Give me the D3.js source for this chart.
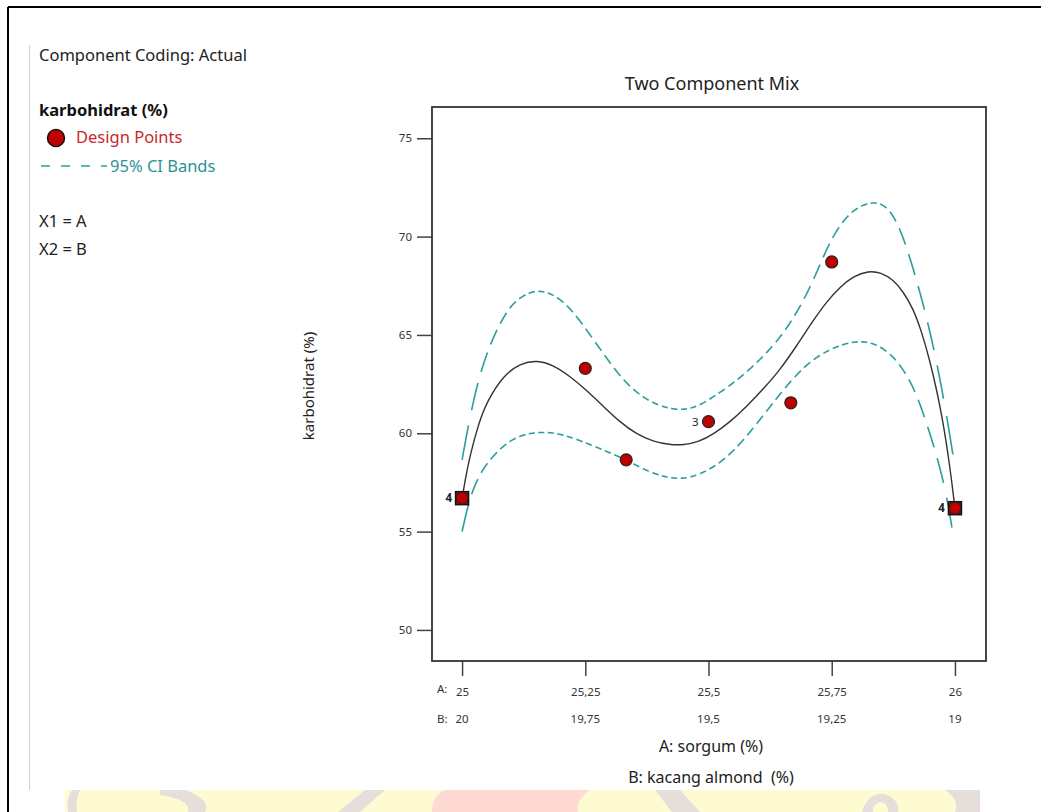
<!DOCTYPE html>
<html><head><meta charset="utf-8">
<script src="https://cdn.jsdelivr.net/npm/d3@7"></script>
<style>body{margin:0;background:#fff}svg{display:block}text{font-family:"Noto Sans","Open Sans",sans-serif}</style>
</head><body><svg id="c" width="1041" height="812"></svg>
<script>
// ---- data ----
const xTicksA = [25, 25.25, 25.5, 25.75, 26];
const xTicksB = ["20", "19,75", "19,5", "19,25", "19"];
const yTicks = [50, 55, 60, 65, 70, 75];

const pointA = [25, 25.25, 25.333, 25.5, 25.667, 25.75, 26];
const pointY = [56.70, 63.30, 58.65, 60.59, 61.55, 68.71, 56.19];
const pointCount = [4, 1, 1, 3, 1, 1, 4];

const fitA = [25.0, 25.008, 25.016, 25.033, 25.05, 25.084, 25.118, 25.152, 25.185, 25.219, 25.253, 25.287, 25.32, 25.354, 25.388, 25.42, 25.45, 25.48, 25.51, 25.545, 25.577, 25.611, 25.645, 25.679, 25.713, 25.74, 25.767, 25.795, 25.824, 25.85, 25.875, 25.895, 25.915, 25.932, 25.949, 25.963, 25.976, 25.985, 25.993, 26.0];
const fitY = [56.70, 57.85, 58.85, 60.45, 61.60, 62.95, 63.55, 63.72, 63.47, 62.90, 62.18, 61.36, 60.58, 59.95, 59.58, 59.42, 59.40, 59.56, 59.95, 60.60, 61.35, 62.25, 63.22, 64.45, 65.76, 66.70, 67.45, 68.00, 68.25, 68.18, 67.80, 67.20, 66.35, 65.20, 63.70, 62.20, 60.55, 59.10, 57.65, 56.19];

const upA = [25.0, 25.016, 25.033, 25.05, 25.067, 25.084, 25.101, 25.126, 25.152, 25.177, 25.202, 25.228, 25.253, 25.287, 25.32, 25.354, 25.388, 25.42, 25.45, 25.48, 25.51, 25.545, 25.577, 25.611, 25.645, 25.679, 25.713, 25.747, 25.78, 25.807, 25.832, 25.855, 25.875, 25.895, 25.915, 25.932, 25.949, 25.963, 25.976, 25.986, 25.996];
const upY = [58.65, 60.85, 62.71, 64.05, 65.08, 65.90, 66.55, 67.05, 67.27, 67.15, 66.77, 66.10, 65.24, 64.04, 62.90, 62.05, 61.52, 61.25, 61.18, 61.38, 61.85, 62.45, 63.10, 63.90, 64.85, 66.10, 67.75, 69.85, 71.05, 71.55, 71.76, 71.65, 71.10, 70.00, 68.40, 66.90, 65.20, 63.60, 61.90, 60.45, 58.90];

const loA = [25.0, 25.016, 25.033, 25.05, 25.084, 25.118, 25.158, 25.199, 25.253, 25.294, 25.333, 25.375, 25.41, 25.44, 25.47, 25.51, 25.545, 25.577, 25.611, 25.645, 25.679, 25.713, 25.76, 25.807, 25.845, 25.875, 25.895, 25.915, 25.932, 25.949, 25.963, 25.976, 25.986, 25.994];
const loY = [55.00, 56.78, 57.75, 58.48, 59.41, 59.91, 60.08, 60.00, 59.50, 59.07, 58.65, 58.08, 57.78, 57.68, 57.78, 58.25, 58.95, 59.83, 60.90, 62.00, 63.00, 63.80, 64.45, 64.74, 64.50, 63.90, 63.25, 62.37, 61.30, 60.00, 58.85, 57.60, 56.40, 55.18];

// ---- layout ----
const svg = d3.select("#c");
const L = 432, R = 986, T = 107, B = 661;
const x = d3.scaleLinear().domain([24.939, 26.063]).range([L, R]);
const y = d3.scaleLinear().domain([48.42, 76.59]).range([B, T]);
const teal = "#2a9d9d", red = "#c00000";

// outer frame
svg.append("line").attr("x1", 8).attr("y1", 7).attr("x2", 1041).attr("y2", 7).attr("stroke", "#000").attr("stroke-width", 2);
svg.append("line").attr("x1", 8).attr("y1", 7).attr("x2", 8).attr("y2", 812).attr("stroke", "#000").attr("stroke-width", 2);
svg.append("line").attr("x1", 29.5).attr("y1", 45).attr("x2", 29.5).attr("y2", 790).attr("stroke", "#d0d0d0").attr("stroke-width", 1);

// watermark band at bottom
const wm = svg.append("g");
wm.append("rect").attr("x", 65).attr("y", 790).attr("width", 915).attr("height", 22).attr("fill", "#fffbd0");
wm.append("path").attr("d", "M68,812 Q66,798 72,790 L80,790 Q75,800 77,812 Z").attr("fill", "#e6dedb");
wm.append("path").attr("d", "M160,790 L185,790 Q212,800 205,812 L188,812 Q192,800 160,795 Z").attr("fill", "#e6dedb");
wm.append("path").attr("d", "M365,790 L385,790 L360,812 L338,812 Z").attr("fill", "#e6dedb");
wm.append("path").attr("d", "M432,812 Q432,795 445,790 L590,790 Q575,800 578,812 Z").attr("fill", "#ffd9d3");
wm.append("path").attr("d", "M655,790 L680,790 L700,812 L672,812 Z").attr("fill", "#e6dedb");
wm.append("path").attr("d", "M862,812 Q868,792 885,794 Q900,800 898,812 L888,812 Q888,802 880,802 Q872,804 873,812 Z").attr("fill", "#e6dedb");
wm.append("path").attr("d", "M945,790 L980,790 L980,812 L955,812 Q960,800 945,790 Z").attr("fill", "#e6dedb");

// left info text
const info = svg.append("g").attr("font-size", 16.5).attr("fill", "#222");
info.append("text").attr("x", 39).attr("y", 61).attr("fill", "#222").text("Component Coding: Actual");
info.append("text").attr("x", 39).attr("y", 116).attr("font-weight", "bold").attr("fill", "#111").text("karbohidrat (%)");
info.append("circle").attr("cx", 56).attr("cy", 138).attr("r", 8.5).attr("fill", red).attr("stroke", "#111").attr("stroke-width", 1.5);
info.append("text").attr("x", 76).attr("y", 143).attr("fill", "#c8282d").text("Design Points");
info.append("line").attr("x1", 41).attr("x2", 107).attr("y1", 166).attr("y2", 166).attr("stroke", teal).attr("stroke-width", 1.5).attr("stroke-dasharray", "9,11");
info.append("text").attr("x", 110).attr("y", 172).attr("fill", "#2a9393").text("95% CI Bands");
info.append("text").attr("x", 39).attr("y", 227).attr("fill", "#222").text("X1 = A");
info.append("text").attr("x", 39).attr("y", 255).attr("fill", "#222").text("X2 = B");

// title
svg.append("text").attr("x", 712).attr("y", 90).attr("text-anchor", "middle").attr("font-size", 18).attr("fill", "#222").text("Two Component Mix");

// y axis
const yAxis = svg.append("g").attr("transform", `translate(${L},0)`)
  .call(d3.axisLeft(y).tickValues(yTicks).tickSize(15).tickPadding(5).tickFormat(d3.format("d")));
yAxis.select(".domain").remove();
yAxis.selectAll(".tick line").attr("stroke", "#444").attr("stroke-width", 1.5);
yAxis.selectAll(".tick text").attr("font-size", 11.5).attr("fill", "#333").attr("font-family", "Noto Sans, sans-serif");

// x axis
const fmtA = d => String(d).replace(".", ",");
const xAxis = svg.append("g").attr("transform", `translate(0,${B})`)
  .call(d3.axisBottom(x).tickValues(xTicksA).tickSize(15).tickPadding(12).tickFormat(fmtA));
xAxis.select(".domain").remove();
xAxis.selectAll(".tick line").attr("stroke", "#444").attr("stroke-width", 1.5);
xAxis.selectAll(".tick text").attr("font-size", 11.5).attr("fill", "#333").attr("font-family", "Noto Sans, sans-serif");
svg.append("g").selectAll("text").data(xTicksB).join("text")
  .attr("x", (d, i) => x(xTicksA[i])).attr("y", 723).attr("text-anchor", "middle")
  .attr("font-size", 11.5).attr("fill", "#333").text(d => d);
svg.append("text").attr("x", 437).attr("y", 693).attr("font-size", 11.5).attr("fill", "#333").text("A:");
svg.append("text").attr("x", 437).attr("y", 723).attr("font-size", 11.5).attr("fill", "#333").text("B:");

// axis titles
svg.append("text").attr("x", 711).attr("y", 752).attr("text-anchor", "middle").attr("font-size", 16).attr("fill", "#222").text("A: sorgum (%)");
svg.append("text").attr("x", 711).attr("y", 783).attr("text-anchor", "middle").attr("font-size", 16).attr("fill", "#222").text("B: kacang almond  (%)").style("white-space", "pre");
svg.append("text").attr("transform", "translate(314,386) rotate(-90)").attr("text-anchor", "middle").attr("font-size", 15).attr("fill", "#222").text("karbohidrat (%)");

// plot frame
svg.append("rect").attr("x", L).attr("y", T).attr("width", R - L).attr("height", B - T)
  .attr("fill", "none").attr("stroke", "#333").attr("stroke-width", 1.8);

// curves
const line = d3.line().x(d => x(d[0])).y(d => y(d[1])).curve(d3.curveBasis);
const poly = d3.line();

// CI band: dashes measured along the horizontal axis (long on steep parts)
function dashedBand(A, Y) {
  const tmp = svg.append("path").attr("d", line(d3.zip(A, Y))).attr("fill", "none").attr("stroke", "none");
  const node = tmp.node(), len = node.getTotalLength();
  const period = 9.5, on = 6.5, x0 = x(A[0]);
  const segs = []; let cur = null;
  for (let s = 0; s <= len; s += 0.5) {
    const p = node.getPointAtLength(s);
    const ph = ((p.x - x0) % period + period) % period;
    if (ph < on) { if (!cur) { cur = []; segs.push(cur); } cur.push([p.x, p.y]); }
    else cur = null;
  }
  tmp.remove();
  svg.append("g").selectAll("path").data(segs.filter(d => d.length > 1)).join("path")
    .attr("d", d => poly(d)).attr("fill", "none").attr("stroke", teal).attr("stroke-width", 1.6);
}
dashedBand(upA, upY);
dashedBand(loA, loY);
svg.append("path").attr("d", line(d3.zip(fitA, fitY))).attr("fill", "none").attr("stroke", "#333").attr("stroke-width", 1.4);

// design points
const pts = d3.range(pointA.length).map(i => ({a: pointA[i], v: pointY[i], n: pointCount[i]}));
const gp = svg.append("g");
gp.selectAll("rect").data(pts.filter(d => d.n === 4)).join("rect")
  .attr("x", d => x(d.a) - 6.5).attr("y", d => y(d.v) - 6.5).attr("width", 13).attr("height", 13)
  .attr("fill", red).attr("stroke", "#111").attr("stroke-width", 1.5);
gp.selectAll("circle").data(pts).join("circle")
  .attr("cx", d => x(d.a)).attr("cy", d => y(d.v)).attr("r", 6)
  .attr("fill", red).attr("stroke", "#222").attr("stroke-width", 1.2);
gp.selectAll("text").data(pts.filter(d => d.n > 1)).join("text")
  .attr("x", d => x(d.a) - 10).attr("y", d => y(d.v) + 4)
  .attr("text-anchor", "end").attr("font-size", 11.5).attr("font-weight", d => d.n === 4 ? "bold" : "normal")
  .attr("fill", "#222").text(d => d.n);
</script></body></html>
